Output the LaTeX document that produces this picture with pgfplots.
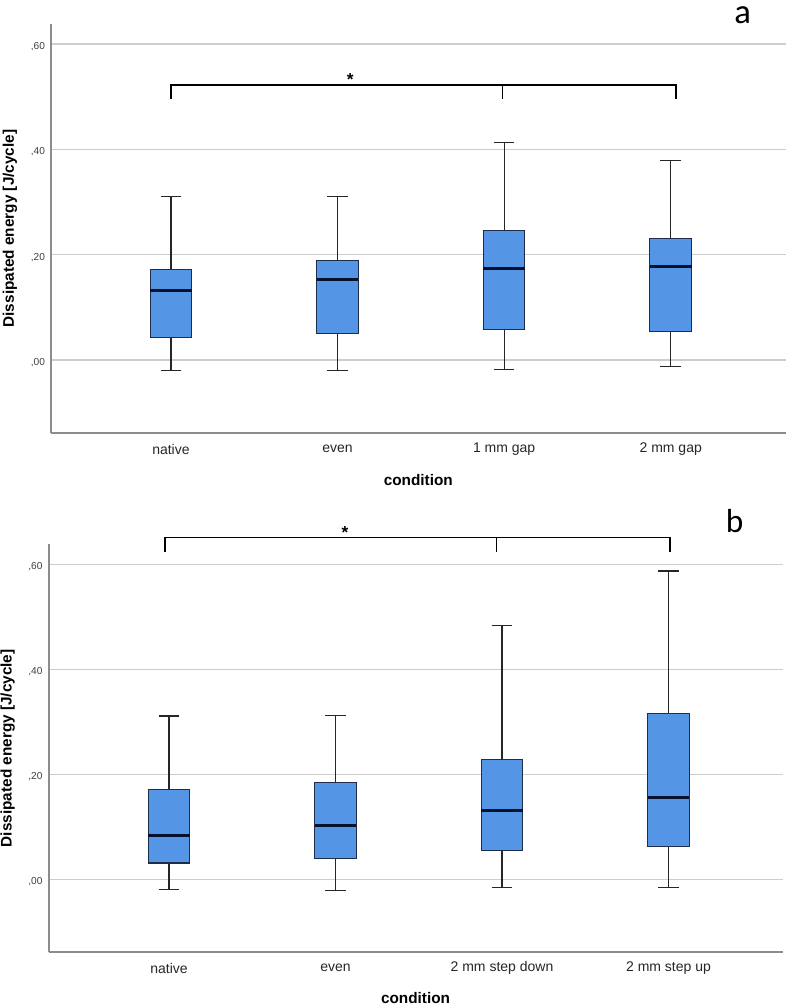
\documentclass[border=0pt]{standalone}
\usepackage{fontspec}
\setmainfont{Liberation Sans}
\newfontfamily\carlito{Carlito}
\usepackage{pgfplots}
\pgfplotsset{compat=1.18}
\usepgfplotslibrary{statistics}

\definecolor{boxblue}{RGB}{84,149,229}
\definecolor{boxedge}{RGB}{30,45,75}
\definecolor{mednavy}{RGB}{5,18,45}
\definecolor{axisgray}{RGB}{140,140,140}
\definecolor{gridgray}{RGB}{205,205,205}

\pgfplotsset{
  spssbox/.style={
    draw=boxedge, fill=boxblue, line width=0.8pt, solid,
    boxplot/draw direction=y,
    boxplot/box extend=0.25,
    boxplot/whisker extend=0.124,
    boxplot/every median/.style={draw=mednavy, line width=2.2pt},
    boxplot/every whisker/.style={draw=black!85, line width=0.9pt},
  },
  spssaxis/.style={
    scale only axis,
    axis x line*=bottom, axis y line*=left,
    axis line style={axisgray, line width=1.5pt, -},
    major tick length=0pt,
    ymin=-0.139, ymax=0.638,
    ytick={0,0.2,0.4,0.6},
    yticklabels={{,00},{,20},{,40},{,60}},
    ymajorgrids, grid style={gridgray, line width=1pt},
    xtick={0,1,2,3},
    /pgf/number format/assume math mode=true,
    yticklabel style={font=\fontsize{7.6}{8}\selectfont, text=black!75, anchor=east, xshift=-1pt, yshift=-2pt},
    xticklabel style={font=\fontsize{10.5}{12}\selectfont, text=black!85, anchor=center, yshift=-12pt},
    ylabel={\bfseries Dissipated energy [J/cycle]},
    xlabel={\bfseries condition},
    label style={font=\fontsize{11.5}{13}\selectfont},
    ylabel style={at={(axis description cs:-0.0558,0.5)}, anchor=center, rotate=0},
    clip=false,
  },
}

\begin{document}
\begin{tikzpicture}
\useasboundingbox (0,0) rectangle (590.25pt,-754.5pt);

% panel a
\begin{axis}[spssaxis,
  at={(38.25pt,-18pt)}, anchor=north west,
  width=551pt, height=306.75pt,
  xmin=-0.72, xmax=3.69,
  xticklabels={native, even, 1 mm gap, 2 mm gap},
  xlabel style={at={(axis description cs:0.5,-0.1149)}, anchor=center},
]
\addplot[spssbox, boxplot prepared={draw position=0, lower whisker=-0.020, lower quartile=0.042, median=0.131, upper quartile=0.172, upper whisker=0.310}] coordinates {};
\addplot[spssbox, boxplot prepared={draw position=1, lower whisker=-0.021, lower quartile=0.050, median=0.152, upper quartile=0.188, upper whisker=0.311}] coordinates {};
\addplot[spssbox, boxplot prepared={draw position=2, lower whisker=-0.019, lower quartile=0.057, median=0.174, upper quartile=0.246, upper whisker=0.413}] coordinates {};
\addplot[spssbox, boxplot prepared={draw position=3, lower whisker=-0.012, lower quartile=0.054, median=0.177, upper quartile=0.230, upper whisker=0.378}] coordinates {};
\draw[black, line width=1.4pt] (axis cs:0,0.495) -- (axis cs:0,0.5225) -- (axis cs:3.03,0.5225) -- (axis cs:3.03,0.495);
\draw[black, line width=1.4pt] (axis cs:1.99,0.5225) -- (axis cs:1.99,0.495);
\node[font=\bfseries\fontsize{13}{13}\selectfont] at (axis cs:1.076,0.532) {*};
\end{axis}
\node[font=\carlito\fontsize{26}{26}\selectfont, anchor=base, inner sep=0pt] at (557pt,-17.5pt) {a};

% panel b
\begin{axis}[spssaxis,
  at={(36.4pt,-408.2pt)}, anchor=north west,
  width=550.5pt, height=306pt,
  xmin=-0.724, xmax=3.685,
  xticklabels={native, even, 2 mm step down, 2 mm step up},
  xlabel style={at={(axis description cs:0.5,-0.112)}, anchor=center},
]
\addplot[spssbox, boxplot prepared={draw position=0, lower whisker=-0.020, lower quartile=0.031, median=0.083, upper quartile=0.171, upper whisker=0.311}] coordinates {};
\addplot[spssbox, boxplot prepared={draw position=1, lower whisker=-0.021, lower quartile=0.039, median=0.102, upper quartile=0.184, upper whisker=0.312}] coordinates {};
\addplot[spssbox, boxplot prepared={draw position=2, lower whisker=-0.015, lower quartile=0.054, median=0.131, upper quartile=0.229, upper whisker=0.483}] coordinates {};
\addplot[spssbox, boxplot prepared={draw position=3, lower whisker=-0.015, lower quartile=0.062, median=0.155, upper quartile=0.316, upper whisker=0.587}] coordinates {};
\draw[black, line width=1.4pt] (axis cs:-0.024,0.623) -- (axis cs:-0.024,0.651) -- (axis cs:3.009,0.651) -- (axis cs:3.009,0.623);
\draw[black, line width=1.4pt] (axis cs:1.967,0.651) -- (axis cs:1.967,0.623);
\node[font=\bfseries\fontsize{13}{13}\selectfont] at (axis cs:1.057,0.661) {*};
\end{axis}
\node[font=\carlito\fontsize{25}{25}\selectfont] at (551pt,-391pt) {b};
\end{tikzpicture}
\end{document}
